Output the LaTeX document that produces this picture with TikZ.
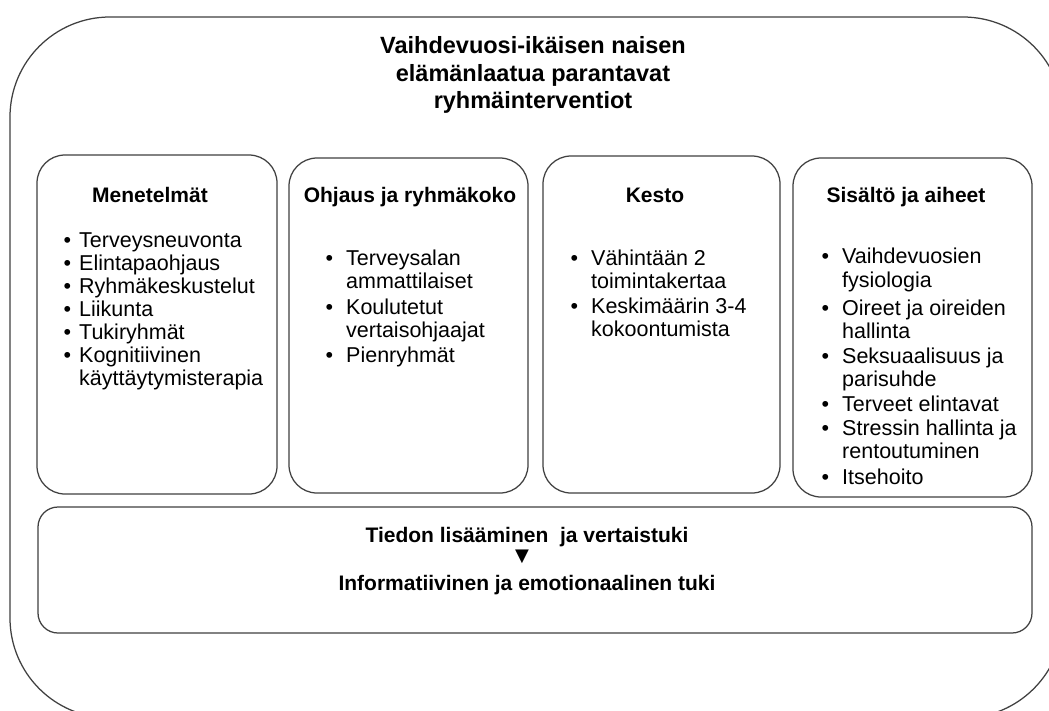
\documentclass[tikz,border=0pt]{standalone}
\usepackage{fontspec}
\setmainfont{Liberation Sans}
\newfontfamily\dejavu{DejaVu Sans}
\newcommand\bul[1]{\llap{\textbullet\hspace{#1}}}
\begin{document}
\begin{tikzpicture}[x=1pt,y=-1pt,
  boxline/.style={draw=black!75, line width=1.25pt},
  colbox/.style={boxline, rounded corners=28pt, inner sep=0pt},
  basebox/.style={boxline, rounded corners=20pt, inner sep=0pt},
  titletxt/.style={font=\fontsize{23.5}{27.5}\selectfont\bfseries, anchor=base, inner sep=0pt},
  headtxt/.style={font=\fontsize{21}{23}\selectfont\bfseries, anchor=base, inner sep=0pt},
  itemtxt/.style={font=\fontsize{21.5}{23}\selectfont, anchor=base west, inner sep=0pt},
  boldtxt/.style={font=\fontsize{21}{23}\selectfont\bfseries, anchor=base, inner sep=0pt}
]
\useasboundingbox (0,0) rectangle (1049,710);
\clip (0,0) rectangle (1049,710);
\fill[white] (0,0) rectangle (1049,710);
% outer frame
\node[boxline, rounded corners=100pt, minimum width=1053pt, minimum height=701pt, inner sep=0pt] (outer) at (536.5,367.5) {};
% title
\node[titletxt] (t1) at (533,53) {Vaihdevuosi-ikäisen naisen};
\node[titletxt] (t2) at (533,81) {elämänlaatua parantavat};
\node[titletxt] (t3) at (533,108) {ryhmäinterventiot};
% column boxes
\node[colbox, minimum width=240pt, minimum height=339pt] (c1) at (157,324.5) {};
\node[colbox, minimum width=239pt, minimum height=335pt] (c2) at (408.5,325.5) {};
\node[colbox, minimum width=237pt, minimum height=337pt] (c3) at (661.5,324.5) {};
\node[colbox, minimum width=239pt, minimum height=339pt] (c4) at (912.5,327.5) {};
% headers
\node[headtxt] (h1) at (150,202) {Menetelmät};
\node[headtxt] (h2) at (410,202) {Ohjaus ja ryhmäkoko};
\node[headtxt] (h3) at (655,202) {Kesto};
\node[headtxt] (h4) at (906,202) {Sisältö ja aiheet};
% column 1
\node[itemtxt] (a1) at (79,247) {\bul{8pt}Terveysneuvonta};
\node[itemtxt] (a2) at (79,270) {\bul{8pt}Elintapaohjaus};
\node[itemtxt] (a3) at (79,293) {\bul{8pt}Ryhmäkeskustelut};
\node[itemtxt] (a4) at (79,316) {\bul{8pt}Liikunta};
\node[itemtxt] (a5) at (79,339) {\bul{8pt}Tukiryhmät};
\node[itemtxt] (a6) at (79,362) {\bul{8pt}Kognitiivinen};
\node[itemtxt] (a7) at (79,385) {käyttäytymisterapia};
% column 2
\node[itemtxt] (b1) at (346,265) {\bul{13pt}Terveysalan};
\node[itemtxt] (b2) at (346,288) {ammattilaiset};
\node[itemtxt] (b3) at (346,314) {\bul{13pt}Koulutetut};
\node[itemtxt] (b4) at (346,337) {vertaisohjaajat};
\node[itemtxt] (b5) at (346,362) {\bul{13pt}Pienryhmät};
% column 3
\node[itemtxt] (k1) at (591,265) {\bul{13pt}Vähintään 2};
\node[itemtxt] (k2) at (591,288) {toimintakertaa};
\node[itemtxt] (k3) at (591,313) {\bul{13pt}Keskimäärin 3-4};
\node[itemtxt] (k4) at (591,336) {kokoontumista};
% column 4
\node[itemtxt] (s1) at (842,263) {\bul{13pt}Vaihdevuosien};
\node[itemtxt] (s2) at (842,287) {fysiologia};
\node[itemtxt] (s3) at (842,315) {\bul{13pt}Oireet ja oireiden};
\node[itemtxt] (s4) at (842,338) {hallinta};
\node[itemtxt] (s5) at (842,363) {\bul{13pt}Seksuaalisuus ja};
\node[itemtxt] (s6) at (842,386) {parisuhde};
\node[itemtxt] (s7) at (842,411) {\bul{13pt}Terveet elintavat};
\node[itemtxt] (s8) at (842,435) {\bul{13pt}Stressin hallinta ja};
\node[itemtxt] (s9) at (842,458) {rentoutuminen};
\node[itemtxt] (s10) at (842,484) {\bul{13pt}Itsehoito};
% bottom box
\node[basebox, minimum width=994pt, minimum height=126pt] (bb) at (535,570) {};
\node[boldtxt] (m1) at (527,542) {Tiedon lisääminen\ \ ja vertaistuki};
\node[inner sep=0pt, font=\dejavu\fontsize{18}{18}\selectfont] (tri) at (522,557) {▼};
\node[boldtxt] (m2) at (527,590) {Informatiivinen ja emotionaalinen tuki};
\end{tikzpicture}
\end{document}
